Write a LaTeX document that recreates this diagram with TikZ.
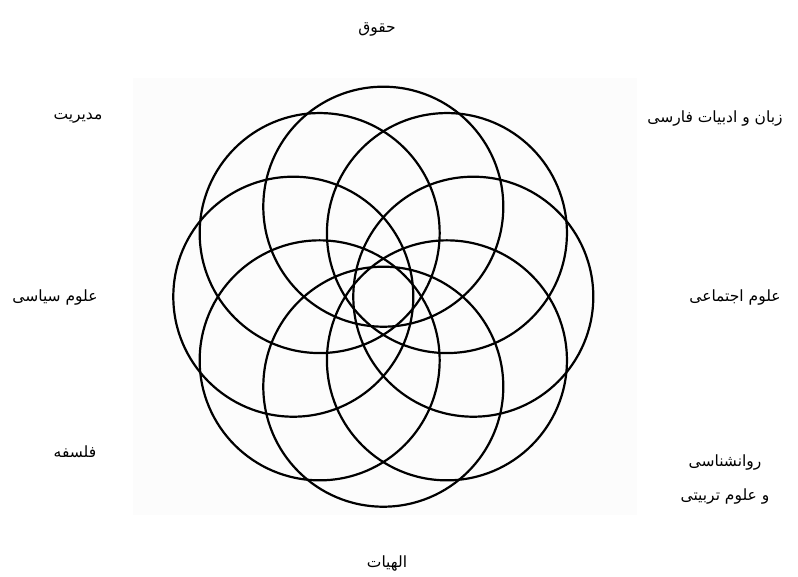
\documentclass[tikz,border=0pt]{standalone}
\usepackage{fontspec}
\usetikzlibrary{calc}
\newfontfamily\arabicfont[Script=Arabic]{DejaVu Sans}
\TeXXeTstate=1
\begin{document}
\begin{tikzpicture}[x=1pt,y=-1pt,
  ring/.style={draw=black,line width=2.2pt},
  lbl/.style={font=\arabicfont\fontsize{15.5}{34}\selectfont,inner sep=0pt,align=center}]
\useasboundingbox (0,0) rectangle (798,576);
\fill[white] (0,0) rectangle (798,576);
\fill[black!1] (133,78) rectangle (637,515);
\coordinate (ctr) at (383.3,296.7);
\foreach \a [count=\i] in {0,45,...,315}{
  \coordinate (c\i) at ($(ctr)+(\a:90)$);
}
\foreach \i in {1,...,8}{
  \draw[ring] (c\i) circle[radius=120pt];
}
\node[lbl] (l1) at (377,29) {\beginR حقوق\endR};
\node[lbl] (l2) at (78,118) {\beginR مدیریت\endR};
\node[lbl] (l3) at (715,119) {\beginR زبان و ادبیات فارسی\endR};
\node[lbl] (l4) at (55,297) {\beginR علوم سیاسی\endR};
\node[lbl] (l5) at (735,297) {\beginR علوم اجتماعی\endR};
\node[lbl] (l6) at (75,452) {\beginR فلسفه\endR};
\node[lbl] (l7) at (725,479) {\beginR روانشناسی\endR\\ \beginR و علوم تربیتی\endR};
\node[lbl] (l8) at (387,563) {\beginR الهیات\endR};
\end{tikzpicture}
\end{document}
